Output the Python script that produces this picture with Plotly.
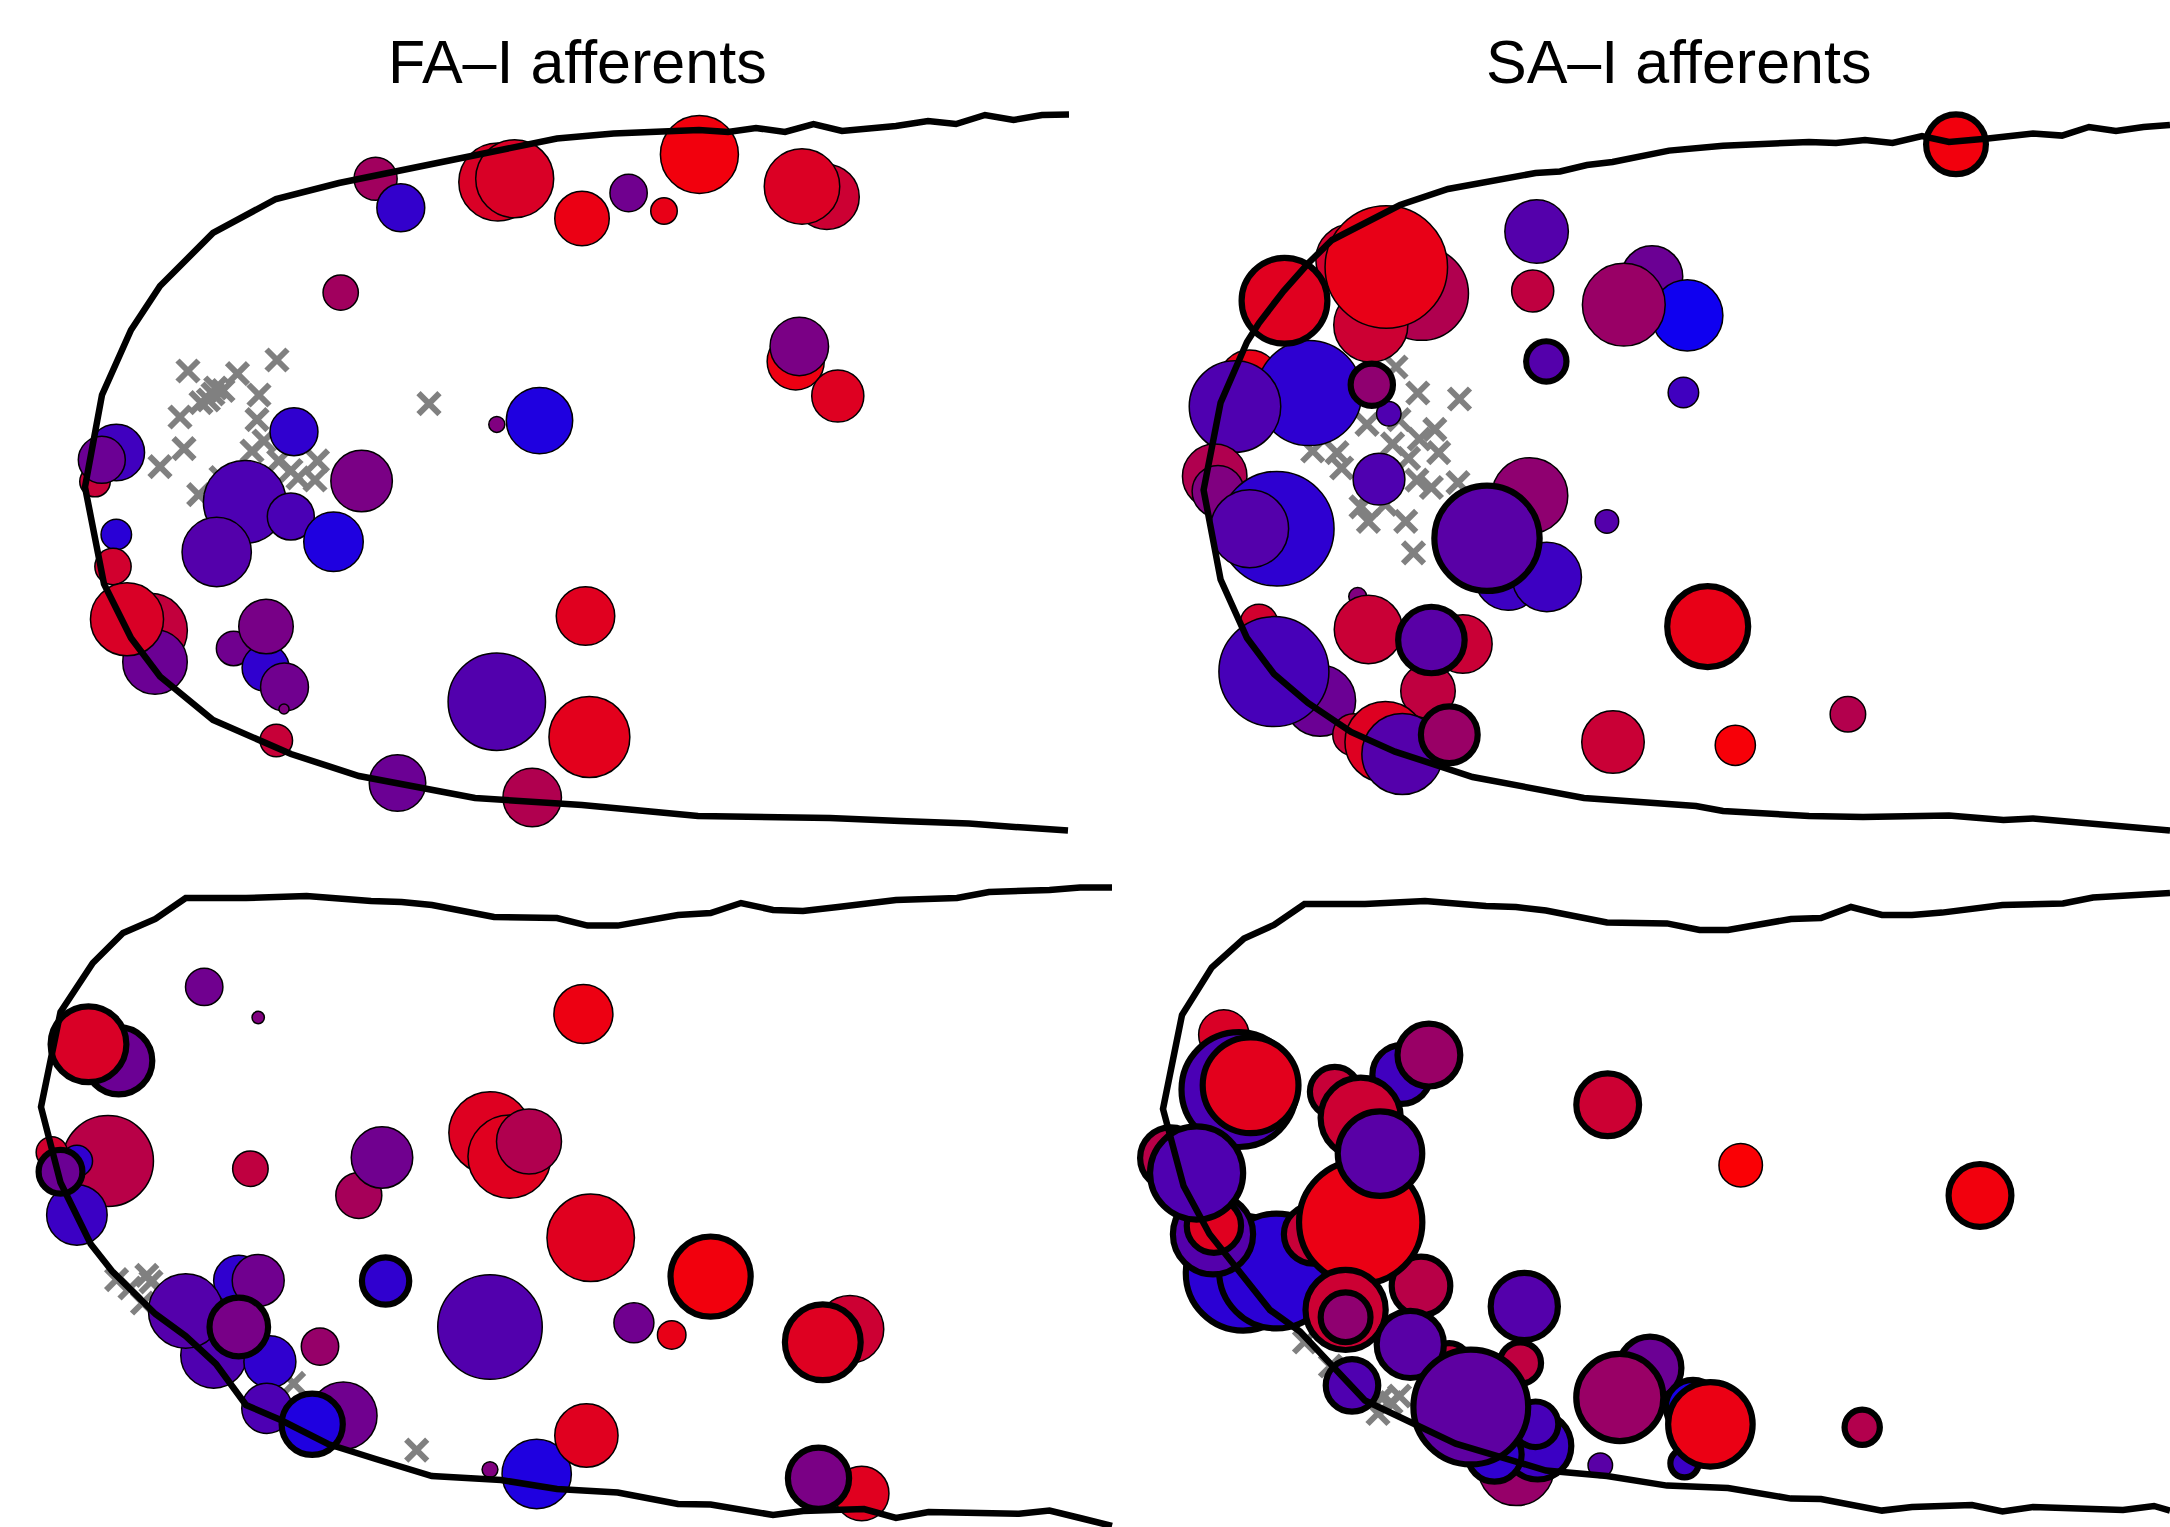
import plotly.graph_objects as go

# ---------------- data (panel-local coordinates, y grows downward) ----------------
TITLES = ["FA–I afferents", "SA–I afferents"]

# circles: (x, y, diameter, colour value 0=blue..1=red, significant flag)
TL_CIRCLES = [
    (95, 481.6, 32, 0.78, 0), (116.3, 452.6, 58, 0.25, 0), (101.8, 459.8, 48.5, 0.42, 0),
    (375.6, 178.7, 44.6, 0.63, 0), (400.8, 207.8, 49.4, 0.20, 0), (497.8, 182, 79.5, 0.85, 0),
    (514.7, 178.7, 79.5, 0.85, 0), (582, 218.4, 56, 0.92, 0), (628.6, 193, 38.8, 0.44, 0),
    (664, 211, 28, 0.91, 0), (699.4, 154.5, 79.5, 0.95, 0), (826.8, 197, 66.4, 0.80, 0),
    (802, 186.4, 77, 0.86, 0), (795.7, 361.4, 58.6, 0.93, 0), (799.3, 346.4, 60, 0.48, 0),
    (837.8, 396, 53.6, 0.87, 0), (340.7, 292.6, 36.8, 0.63, 0), (496.8, 424.4, 17.5, 0.50, 0),
    (539.5, 420.6, 67.9, 0.12, 0), (294, 431.7, 49.4, 0.19, 0), (244.8, 502, 84.3, 0.30, 0),
    (290.8, 516.5, 48.5, 0.29, 0), (216.7, 552, 70.8, 0.33, 0), (361.6, 481, 63, 0.48, 0),
    (333.5, 541.7, 61, 0.12, 0), (116.3, 534.5, 32, 0.16, 0), (113, 566.5, 37.8, 0.82, 0),
    (150.3, 630.4, 75.6, 0.76, 0), (155, 662, 66, 0.42, 0), (127, 619.3, 74.6, 0.85, 0),
    (233.6, 648.4, 36, 0.44, 0), (265.6, 667.8, 48.5, 0.19, 0), (266, 626.6, 56, 0.47, 0),
    (284.5, 687, 49.4, 0.44, 0), (284, 709, 11.6, 0.50, 0), (276.3, 740.5, 34, 0.78, 0),
    (397.5, 783, 58, 0.42, 0), (532.2, 797.6, 60, 0.69, 0), (496.8, 701.7, 98.9, 0.32, 0),
    (589.4, 737, 82.4, 0.89, 0), (585.5, 616, 60, 0.88, 0),
]
TL_CROSSES = [
    (188, 371), (277, 360), (237.5, 373.6), (215.7, 388), (208.4, 400), (201, 402.6),
    (223, 390.5), (213, 394), (259, 395), (180, 417), (257, 419.6), (184, 448.7),
    (160, 466.6), (252, 451), (264, 441), (278.7, 460.8), (317.5, 460.8), (298, 477.8),
    (315, 480), (198.7, 494.7), (429, 403.6), (291, 470.5), (221, 477.5),
]
TL_OUTLINE = [
    (1069, 114.6), (1042, 115), (1013.5, 120), (985, 115), (956, 124), (928, 121), (896, 126),
    (842, 131), (813.5, 124), (785, 132), (756, 128), (728, 132), (699, 130), (667, 131),
    (613.6, 133.6), (557, 138.5), (499, 150.6), (436, 163.7), (392.6, 171.4), (339, 183),
    (276, 199), (213, 233), (160, 286), (131, 330), (102, 395), (85, 487), (104, 584),
    (131, 638), (160, 676.5), (213, 720), (291, 754), (359, 776), (475, 798), (582, 805),
    (698, 816), (775, 816.5), (830, 818), (900, 821), (969, 823.5), (1024, 827.6), (1068, 830.4),
]

TR_CIRCLES = [
    (266.4, 259.6, 72.7, 0.82, 0), (336.7, 293.6, 95, 0.69, 0), (285.8, 325, 75.6, 0.80, 0),
    (301.3, 267, 124, 0.91, 0), (451.6, 231.5, 65, 0.33, 0), (447.7, 291, 43.6, 0.75, 0),
    (567, 276.6, 63, 0.42, 0), (602.3, 315.4, 72.7, 0.06, 0), (538.8, 304.7, 84.3, 0.60, 0),
    (598.4, 392.5, 32, 0.25, 0), (164.6, 380.8, 63, 0.91, 0), (224.3, 393, 106.6, 0.18, 0),
    (150, 406.5, 93, 0.31, 0), (303.8, 413.8, 26, 0.31, 0), (129.7, 476.3, 66, 0.69, 0),
    (133, 491.3, 53.3, 0.50, 0), (191.8, 528.7, 116, 0.18, 0), (164.6, 528.7, 79.5, 0.33, 0),
    (294, 479.2, 53.3, 0.31, 0), (444.8, 495.7, 77.5, 0.56, 0), (423, 577, 68, 0.24, 0),
    (461.8, 577, 70.8, 0.24, 0), (521.9, 521.4, 25, 0.33, 0), (272.7, 596.5, 19.4, 0.50, 0),
    (283.4, 629.5, 69.8, 0.79, 0), (377.9, 644, 60, 0.79, 0), (343, 691, 56, 0.75, 0),
    (174, 623, 39, 0.82, 0), (235, 700.7, 72.7, 0.42, 0), (188.9, 671.6, 111.5, 0.28, 0),
    (268.8, 734.7, 43.6, 0.78, 0), (300.4, 742, 82.4, 0.87, 0), (317.3, 754, 82.4, 0.33, 0),
    (528, 742, 64, 0.79, 0), (650.3, 745.3, 41.7, 0.97, 0), (762.9, 714.3, 37, 0.70, 0),
    (199.5, 300.8, 92, 0.88, 1), (461.3, 361.4, 46.5, 0.33, 1), (286.8, 384.7, 48.5, 0.56, 1),
    (402, 538.3, 111.5, 0.35, 1), (622.7, 626.6, 87.2, 0.91, 1), (346.4, 640, 72.7, 0.35, 1),
    (364.3, 734.7, 63, 0.60, 1), (871, 144.3, 66, 0.95, 1),
]
TR_CROSSES = [
    (311, 367), (332.8, 393), (374.5, 399), (282, 424.4), (314, 419.6), (349.8, 429.3),
    (307.6, 443.8), (334.3, 439), (353.7, 452.6), (323.6, 458.4), (227.7, 451), (252, 452.6),
    (256.7, 468), (331.9, 480.2), (346.4, 487.5), (373, 482.6), (285.8, 492.3), (283.4, 521.4),
    (320.7, 521.4), (300.4, 504.4), (328.5, 552.9), (276, 506.8),
]
TR_OUTLINE = [
    (1085, 125), (1058.5, 127), (1031, 131), (1004, 127), (977, 135.6), (948, 133.6),
    (903, 138.5), (864, 142), (837, 136), (807.6, 143), (780, 140), (751, 143), (724, 142),
    (638, 145.7), (584, 150.6), (527.5, 162), (502, 165), (475, 171.4), (450.6, 173),
    (392, 184.5), (363, 189), (315, 205), (271, 227), (247, 240), (223, 263.5), (198.6, 291),
    (174, 323), (162, 342), (135.6, 402.6), (118.6, 490), (135.6, 579.6), (162, 638),
    (189, 674), (223, 703), (266, 732), (310, 751.6), (387.6, 777), (499, 798), (611, 806),
    (638, 811), (724, 816), (778, 817), (864, 815.6), (918.5, 820), (948, 818.5),
    (1058.5, 827), (1085, 830.6),
]

BL_CIRCLES = [
    (204.2, 223.9, 38.9, 0.44, 0), (258.2, 254.5, 13.8, 0.50, 0), (108, 398, 92.4, 0.72, 0),
    (51.8, 389.3, 32.8, 0.82, 0), (76.9, 398, 32.8, 0.19, 0), (76.9, 451.9, 62, 0.23, 0),
    (250.4, 405.7, 37, 0.75, 0), (358.8, 432.4, 47.5, 0.65, 0), (382, 394.4, 63, 0.44, 0),
    (490, 369.8, 83.8, 0.87, 0), (509.5, 393.6, 84.6, 0.88, 0), (529, 378.5, 66.5, 0.69, 0),
    (583.4, 251, 60.5, 0.93, 0), (590.7, 474.8, 89, 0.88, 0), (238.8, 517.5, 51.8, 0.19, 0),
    (258.2, 517.5, 53.5, 0.44, 0), (213.7, 592.2, 67.4, 0.31, 0), (185.7, 548, 76, 0.33, 0),
    (269.9, 598.7, 53.5, 0.19, 0), (320, 583.6, 38.9, 0.59, 0), (490, 564, 106, 0.32, 0),
    (266.9, 645.3, 51.8, 0.30, 0), (343.3, 652.7, 69, 0.44, 0), (490, 706.6, 17.3, 0.50, 0),
    (536.7, 711, 70.8, 0.12, 0), (586.4, 672.5, 64.8, 0.88, 0), (633.9, 559.8, 41.5, 0.44, 0),
    (671.7, 571.9, 30, 0.91, 0), (850, 566.3, 69, 0.80, 0), (861.7, 730.4, 56, 0.88, 0),
    (118.7, 297.7, 73.4, 0.42, 1), (88.5, 281.3, 82, 0.85, 1), (60.5, 408.7, 50, 0.42, 1),
    (385.6, 518, 53.5, 0.19, 1), (238.8, 564, 64.8, 0.47, 1), (312.2, 661.3, 67.4, 0.12, 1),
    (710.6, 513.6, 86.4, 0.95, 1), (822.8, 579.3, 82, 0.87, 1), (818.5, 715.3, 67.4, 0.48, 1),
]
BL_CROSSES = [
    (116.6, 516.6), (146.8, 512.3), (151, 518.8), (142.5, 540), (130, 525),
    (293.6, 620.3), (416.7, 687.2),
]
BL_OUTLINE = [
    (1112, 124.6), (1080, 124.6), (1049.5, 127), (989, 129), (957, 135), (896, 137), (838, 144),
    (803, 148), (773, 147), (741, 140), (710.6, 150), (678, 152), (617.7, 162.6), (587.5, 162.6),
    (557, 155), (494, 154), (432, 142), (401.6, 139), (371, 138), (306.6, 133), (246, 135),
    (185.7, 135), (155.4, 156), (123, 170), (92.8, 200), (60.5, 249), (41, 344), (60.5, 419.5),
    (90.7, 481), (112, 508), (155.4, 551), (185.7, 573), (216, 601), (246, 642), (280.7, 657),
    (328, 681), (375.7, 696), (431.8, 713), (501, 717), (557, 726), (617.7, 729.5), (678, 741),
    (710.6, 741.6), (773, 752), (803, 748), (864, 746), (896, 755), (928.6, 749), (1019, 750.7),
    (1049.5, 747.6), (1080, 755), (1112, 763),
]

BR_CIRCLES = [
    (138.8, 271.8, 51.8, 0.85, 0), (515.3, 702.3, 26, 0.35, 0), (655.7, 402.2, 45, 0.98, 0),
    (431.1, 704.5, 77.7, 0.59, 0),
    (153.9, 326.6, 121, 0.29, 1), (165.6, 322.3, 102, 0.89, 1), (249.8, 328.8, 56, 0.78, 1),
    (316.7, 311.5, 64.8, 0.25, 1), (343.9, 292.1, 69, 0.60, 1), (158.2, 510.2, 121, 0.17, 1),
    (191.5, 508, 121, 0.17, 1), (128, 471.3, 86.4, 0.33, 1), (128.9, 462.7, 60.5, 0.88, 1),
    (85.7, 394.9, 67.4, 0.72, 1), (111.6, 410, 99.3, 0.31, 1), (228.2, 471.3, 64.8, 0.78, 1),
    (275.7, 354.7, 86.4, 0.80, 1), (336, 523, 64.8, 0.72, 1), (275.7, 459.2, 129.5, 0.92, 1),
    (295, 390.6, 90.7, 0.35, 1), (260.6, 546.9, 86.4, 0.80, 1), (260.6, 554.2, 56, 0.56, 1),
    (439.3, 543.4, 73.4, 0.33, 1), (435.4, 600, 47.5, 0.75, 1), (364.2, 600.8, 47.5, 0.78, 1),
    (325.3, 581.4, 73.4, 0.35, 1), (267, 622.4, 58.7, 0.31, 1), (452.7, 682.9, 73.4, 0.23, 1),
    (409.5, 691.5, 60.5, 0.19, 1), (450.5, 661.3, 51.8, 0.28, 1), (385.8, 644, 121, 0.37, 1),
    (565, 605, 69, 0.42, 1), (599.5, 700.2, 34.5, 0.23, 1), (608, 644, 60.5, 0.09, 1),
    (534.8, 634.5, 93.3, 0.60, 1), (625.4, 661.3, 90.7, 0.92, 1), (522.7, 341.8, 69, 0.80, 1),
    (895, 432.4, 69, 0.95, 1), (777.2, 664.3, 41.5, 0.70, 1),
]
BR_CROSSES = [
    (219.5, 579), (245.4, 603), (297, 635), (306, 639.7), (293, 650.5), (314.5, 633),
]
BR_OUTLINE = [
    (1085, 130), (1038, 133.6), (1008, 134.5), (978, 140.5), (917.5, 142), (857, 149.6),
    (827, 152), (797, 152), (766, 144), (736, 155), (706, 156), (643, 167), (614.6, 167),
    (582, 160.4), (522, 159.5), (461, 147.5), (431, 144), (401, 143), (340, 138), (280, 141),
    (219.5, 141), (189, 162), (159, 175.5), (126.7, 204.5), (97, 252), (78, 346), (98.6, 423),
    (124.5, 471), (185, 547), (215, 568.5), (280, 637.5), (370.7, 680.7), (461, 707.5),
    (522, 713), (582, 722.6), (643, 725), (706, 735.6), (736, 736), (766, 742), (797, 747.6),
    (827, 744), (887, 742), (917.5, 748.5), (948, 744), (1038, 747), (1069, 743), (1085, 747.6),
]

# ---------------- styling / layout ----------------
W, H = 2170, 1527
ORIGINS = [(0, 0), (1085, 0), (0, 763), (1085, 763)]
THIN, THICK = 1.5, 6.2
GREY = "rgb(128,128,128)"
SCALE = [[0, "rgb(0,0,255)"], [1, "rgb(255,0,0)"]]

PANELS = [
    (TL_CIRCLES, TL_CROSSES, TL_OUTLINE),
    (TR_CIRCLES, TR_CROSSES, TR_OUTLINE),
    (BL_CIRCLES, BL_CROSSES, BL_OUTLINE),
    (BR_CIRCLES, BR_CROSSES, BR_OUTLINE),
]

fig = go.Figure()
layout_axes = {}
for n, ((circles, crosses, outline), (ox, oy)) in enumerate(zip(PANELS, ORIGINS), start=1):
    sfx = "" if n == 1 else str(n)
    xa, ya = "x" + sfx, "y" + sfx
    layout_axes["xaxis" + sfx] = dict(domain=[0, 1], range=[-ox, W - ox], visible=False,
                                      anchor=ya, fixedrange=True)
    layout_axes["yaxis" + sfx] = dict(domain=[0, 1], range=[H - oy, -oy], visible=False,
                                      anchor=xa, fixedrange=True)

    fig.add_trace(go.Scatter(
        x=[c[0] for c in crosses], y=[c[1] for c in crosses], mode="markers",
        marker=dict(symbol="x-thin", size=21, color=GREY, line=dict(width=6, color=GREY)),
        xaxis=xa, yaxis=ya, hoverinfo="skip", showlegend=False))

    rows = [r for r in circles if not r[4]] + [r for r in circles if r[4]]
    lws = [THICK if r[4] else THIN for r in rows]
    fig.add_trace(go.Scatter(
        x=[r[0] for r in rows], y=[r[1] for r in rows], mode="markers",
        marker=dict(symbol="circle", sizemode="diameter",
                    size=[r[2] - w for r, w in zip(rows, lws)],
                    color=[r[3] for r in rows], colorscale=SCALE, cmin=0, cmax=1,
                    opacity=1, line=dict(color="black", width=lws)),
        xaxis=xa, yaxis=ya, hoverinfo="skip", showlegend=False))

    fig.add_trace(go.Scatter(
        x=[p[0] for p in outline], y=[p[1] for p in outline], mode="lines",
        line=dict(color="black", width=6.5), xaxis=xa, yaxis=ya,
        hoverinfo="skip", showlegend=False))

annotations = [
    dict(text=TITLES[0], x=577 / W, y=1 - 62 / H, xref="paper", yref="paper",
         xanchor="center", yanchor="middle", showarrow=False,
         font=dict(family="Liberation Sans, Arial, sans-serif", size=61, color="black")),
    dict(text=TITLES[1], x=1678 / W, y=1 - 62 / H, xref="paper", yref="paper",
         xanchor="center", yanchor="middle", showarrow=False,
         font=dict(family="Liberation Sans, Arial, sans-serif", size=61, color="black")),
]

fig.update_layout(
    width=W, height=H, margin=dict(l=0, r=0, t=0, b=0),
    paper_bgcolor="white", plot_bgcolor="rgba(0,0,0,0)",
    showlegend=False, annotations=annotations, **layout_axes)

fig.write_html("out.html", config={"displayModeBar": False},
               post_script="document.body.style.margin='0';document.body.style.overflow='hidden';")
